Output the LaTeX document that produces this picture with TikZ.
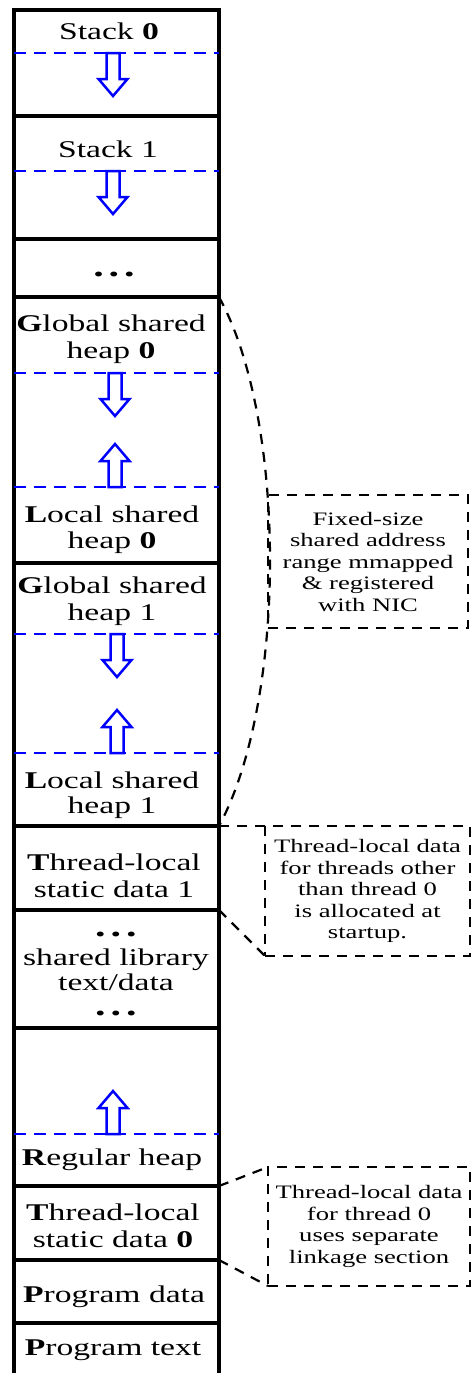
\documentclass[tikz,border=0pt]{standalone}
\usepackage{fontspec}
\setmainfont[FakeStretch=1.4]{Liberation Serif}
\newcommand\ellipsisrow{{\fontsize{30}{27}\selectfont\textbf{.\hspace{5pt}.\hspace{5pt}.}}}
\begin{document}
\begin{tikzpicture}[x=1pt,y=-1pt,
  seg/.style={draw=black, line width=4pt, rectangle, inner sep=0pt, outer sep=0pt,
              minimum width=205pt, anchor=north west},
  lbl/.style={font=\fontsize{24}{27}\selectfont, align=center, inner sep=0pt, anchor=base},
  growline/.style={draw=blue, line width=2.5pt, dash pattern=on 12pt off 8pt},
  note/.style={draw=black, line width=2.2pt, dash pattern=on 10pt off 8pt, rectangle,
               inner sep=0pt, outer sep=0pt, align=center,
               font=\fontsize{19}{21.5}\selectfont},
  lead/.style={draw=black, line width=2.2pt, dash pattern=on 10pt off 8pt},
  hollowdown/.pic={\draw[blue, line width=2.5pt, miter limit=4, fill=white]
      (-6.5,0) -- (-6.5,26) -- (-14.5,26) -- (0,43) -- (14.5,26) -- (6.5,26) -- (6.5,0) -- cycle;},
  hollowup/.pic={\draw[blue, line width=2.5pt, miter limit=4, fill=white]
      (-6.5,0) -- (-6.5,-26) -- (-14.5,-26) -- (0,-43) -- (14.5,-26) -- (6.5,-26) -- (6.5,0) -- cycle;},
]
\useasboundingbox (0,0) rectangle (473,1373);
\clip (0,0) rectangle (473,1373);

% memory segments, top of the address space first
\node[seg, minimum height=106] (stack0) at (14,10)   {};
\node[seg, minimum height=123] (stack1) at (14,116)  {};
\node[seg, minimum height=58]  (more)   at (14,239)  {};
\node[seg, minimum height=266] (sh0)    at (14,297)  {};
\node[seg, minimum height=263] (sh1)    at (14,563)  {};
\node[seg, minimum height=84]  (tls1)   at (14,826)  {};
\node[seg, minimum height=118] (lib)    at (14,910)  {};
\node[seg, minimum height=158] (heap)   at (14,1028) {};
\node[seg, minimum height=74]  (tls0)   at (14,1186) {};
\node[seg, minimum height=63]  (pdata)  at (14,1260) {};
\node[seg, minimum height=90]  (ptext)  at (14,1323) {};

% growth limits inside the segments
\draw[growline] (stack0.west |- 0,53)   -- (stack0.east |- 0,53);
\draw[growline] (stack1.west |- 0,171)  -- (stack1.east |- 0,171);
\draw[growline] (sh0.west |- 0,373)     -- (sh0.east |- 0,373);
\draw[growline] (sh0.west |- 0,487)     -- (sh0.east |- 0,487);
\draw[growline] (sh1.west |- 0,634)     -- (sh1.east |- 0,634);
\draw[growline] (sh1.west |- 0,753)     -- (sh1.east |- 0,753);
\draw[growline] (heap.west |- 0,1134)   -- (heap.east |- 0,1134);

% growth directions
\pic at (113,53)   {hollowdown};
\pic at (113,171)  {hollowdown};
\pic at (115,373)  {hollowdown};
\pic at (115,487)  {hollowup};
\pic at (117,634)  {hollowdown};
\pic at (117,753)  {hollowup};
\pic at (113,1134) {hollowup};

% segment labels (anchored at the baseline of their last line)
\node[lbl] (l-stack0) at (109,39)   {Stack \textbf{0}};
\node[lbl] (l-stack1) at (108,157)  {Stack 1};
\node[lbl] (l-more)   at (114,276)  {\ellipsisrow};
\node[lbl] (l-gsh0)   at (111,358)  {\textbf{G}lobal shared\\heap \textbf{0}};
\node[lbl] (l-lsh0)   at (112,548)  {\textbf{L}ocal shared\\[-1pt]heap \textbf{0}};
\node[lbl] (l-gsh1)   at (112,620)  {\textbf{G}lobal shared\\heap 1};
\node[lbl] (l-lsh1)   at (112,813)  {\textbf{L}ocal shared\\[-2pt]heap 1};
\node[lbl] (l-tls1)   at (114,897)  {\textbf{T}hread-local\\static data 1};
\node[lbl] (l-lib)    at (116,1015) {\ellipsisrow\\[2pt]shared library\\[-2pt]text/data\\[-2pt]\ellipsisrow};
\node[lbl] (l-heap)   at (112,1165) {\textbf{R}egular heap};
\node[lbl] (l-tls0)   at (113,1247) {\textbf{T}hread-local\\static data \textbf{0}};
\node[lbl] (l-pdata)  at (114,1302) {\textbf{P}rogram data};
\node[lbl] (l-ptext)  at (113,1355) {\textbf{P}rogram text};

% callouts
\node[note, minimum width=200, minimum height=133] (n-shared) at (368,561.5)
  {Fixed-size\\shared address\\range mmapped\\\& registered\\with NIC};
\node[note, minimum width=205, minimum height=130] (n-tls1) at (367.5,891)
  {Thread-local data\\for threads other\\than thread 0\\is allocated at\\startup.};
\node[note, minimum width=202, minimum height=119] (n-tls0) at (369,1226.5)
  {Thread-local data\\for thread 0\\uses separate\\linkage section};

\draw[lead] (sh0.north east) .. controls (287,420) and (287,700) .. (sh1.south east);
\draw[lead] (sh1.south east)  -- (n-tls1.north west);
\draw[lead] (tls1.south east) -- (n-tls1.south west);
\draw[lead] (heap.south east) -- (n-tls0.north west);
\draw[lead] (tls0.south east) -- (n-tls0.south west);
\end{tikzpicture}
\end{document}
